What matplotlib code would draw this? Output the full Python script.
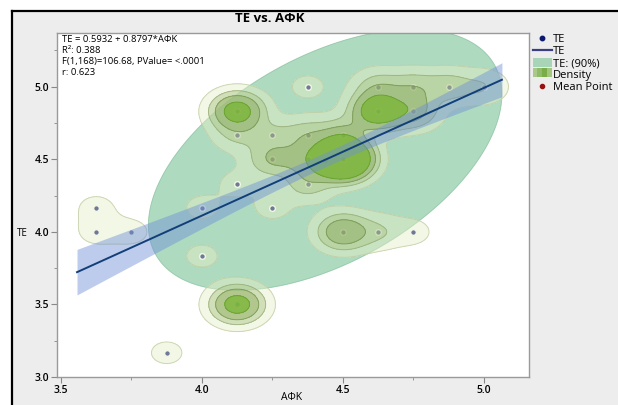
import numpy as np
import matplotlib
matplotlib.use("Agg")
import matplotlib.pyplot as plt
from matplotlib.patches import Rectangle, Polygon
from matplotlib.lines import Line2D
from matplotlib.legend_handler import HandlerBase

plt.rcParams.update({
    "font.family": ["Open Sans", "DejaVu Sans"],
    "font.size": 7.5,
})

# ---- data -------------------------------------------------------------------
afk = [3.625, 3.625, 3.75, 3.875, 4.0, 4.0, 4.125, 4.125, 4.125, 4.125,
       4.25, 4.25, 4.25, 4.375, 4.375, 4.375, 4.375, 4.5, 4.5, 4.5,
       4.625, 4.625, 4.625, 4.75, 4.75, 4.75, 4.875, 5.0]
te = [4.167, 4.0, 4.0, 3.167, 3.833, 4.167, 3.5, 4.333, 4.667, 4.833,
      4.667, 4.5, 4.167, 5.0, 4.667, 4.5, 4.333, 4.667, 4.5, 4.0,
      5.0, 4.833, 4.0, 5.0, 4.833, 4.0, 5.0, 5.0]
# estimated number of overlapping observations at each point
counts = [1, 1, 1, 1, 1, 1, 10, 1, 2, 10,
          2, 4, 1, 1, 3, 4, 3, 4, 30, 7,
          3, 12, 2, 3, 5, 1, 3, 2]

# fit statistics from the report
intercept = 0.5932
slope = 0.8797
r_sq = 0.388
n_obs = 170
mean_x = 4.437
sd_x = 0.293
sd_y = 0.416
fit_x_range = (3.557, 5.064)

# 90% ellipse as drawn (half extents in x / y and its tilt correlation)
ell_half_x = 0.627
ell_half_y = 0.90
ell_r = 0.5

report = ["TE = 0.5932 + 0.8797*A\u03a6K",
          "R\u00b2: 0.388",
          "F(1,168)=106.68, PValue= <.0001",
          "r: 0.623"]

afk = np.array(afk)
te = np.array(te)
counts = np.array(counts, dtype=float)
mean_y = intercept + slope * mean_x

# ---- figure -----------------------------------------------------------------
fig = plt.figure(figsize=(6.18, 4.05), dpi=100)
fig.patch.set_facecolor("white")
fig.patches.append(Rectangle((12 / 618, 0), 1, 1 - 11 / 405, transform=fig.transFigure,
                             facecolor="#ededed", edgecolor="none", zorder=-5))
fig.lines.append(Line2D([12 / 618, 1], [1 - 11 / 405] * 2, transform=fig.transFigure,
                        color="black", lw=1.6))
fig.lines.append(Line2D([12 / 618] * 2, [0, 1 - 11 / 405], transform=fig.transFigure,
                        color="black", lw=1.6))

ax = fig.add_axes([57 / 618, 28 / 405, 472 / 618, 344 / 405])
ax.set_facecolor("white")
ax.set_xlim(3.486, 5.16)
ax.set_ylim(3.0, 5.37)

# 90% density ellipse
cov = np.array([[1.0, ell_r], [ell_r, 1.0]])
L = np.linalg.cholesky(cov)
t = np.linspace(0, 2 * np.pi, 300)
unit = (L @ np.vstack([np.cos(t), np.sin(t)])).T
ell = unit * [ell_half_x, ell_half_y] + [mean_x, mean_y]
ax.add_patch(Polygon(ell, closed=True, facecolor="#6cbc8c", alpha=0.55,
                     edgecolor="#6aae85", lw=0.6, zorder=1))

# points
ax.scatter(afk, te, s=17, color="#0b1a70", edgecolor="white", linewidth=1.0, zorder=3)
ax.scatter([mean_x], [mean_y], s=9, color="#9a1a10", zorder=3)

# density contours (weighted kernel estimate)
hx, hy = 0.058, 0.08
gx = np.linspace(3.45, 5.2, 400)
gy = np.linspace(2.95, 5.45, 400)
GX, GY = np.meshgrid(gx, gy)
dens = np.zeros_like(GX)
for x0, y0, w in zip(afk, te, counts):
    dens += w * np.exp(-0.5 * ((GX - x0) / hx) ** 2 - 0.5 * ((GY - y0) / hy) ** 2)

levels = [0.65, 2.2, 4.2, 7.5]
fills = [("#e6eec6", 0.45), ("#a9c283", 0.45), ("#8aab5c", 0.45), ("#79b634", 0.75)]
edges = ["#bcc9a0", "#93a874", "#6f8f4a", "#5f9a2c"]
for lv, (fc, a), ec in zip(levels, fills, edges):
    ax.contourf(GX, GY, dens, levels=[lv, dens.max() + 1], colors=[fc], alpha=a, zorder=4)
    ax.contour(GX, GY, dens, levels=[lv], colors=[ec], linewidths=0.7, alpha=0.7, zorder=4)

# fit line and 95% confidence band of the mean
xf = np.linspace(*fit_x_range, 100)
yf = intercept + slope * xf
rmse = sd_y * np.sqrt(1 - r_sq) * np.sqrt((n_obs - 1) / (n_obs - 2))
sxx = (n_obs - 1) * sd_x ** 2
hw = 1.974 * rmse * np.sqrt(1 / n_obs + (xf - mean_x) ** 2 / sxx)
ax.fill_between(xf, yf - hw, yf + hw, color="#6d8fd8", alpha=0.45, lw=0, zorder=5)
ax.plot(xf, yf, color="#123f78", lw=1.4, zorder=6)

# axes styling
ax.set_xticks([3.5, 4.0, 4.5, 5.0])
ax.set_xticks([3.75, 4.25, 4.75], minor=True)
ax.set_yticks([3.0, 3.5, 4.0, 4.5, 5.0])
ax.set_yticks([3.25, 3.75, 4.25, 4.75, 5.25], minor=True)
ax.set_xticklabels(["3.5", "4.0", "4.5", "5.0"], fontweight="semibold")
ax.set_yticklabels(["3.0", "3.5", "4.0", "4.5", "5.0"], fontweight="semibold")
ax.tick_params(which="both", direction="out", color="#888888", pad=1.5)
ax.tick_params(which="major", length=4)
ax.tick_params(which="minor", length=2.5)
for sp in ax.spines.values():
    sp.set_color("#9a9a9a")
    sp.set_linewidth(1.0)

for i, line in enumerate(report):
    fig.text(62 / 618, 1 - (40 + i * 10.8) / 405, line, fontsize=6.8, ha="left",
             va="center", zorder=8)

fig.text(22 / 618, 1 - 233 / 405, "TE", fontsize=7, ha="center", va="center")
fig.text(292 / 618, 1 - 398 / 405, "A\u03a6K", fontsize=7.5, ha="center", va="center")
fig.text(270 / 618, 1 - 19 / 405, "TE vs. A\u03a6K", fontsize=9.5, fontweight="bold",
         ha="center", va="center")


# ---- legend -----------------------------------------------------------------
class DensityHandler(HandlerBase):
    def create_artists(self, legend, orig, xd, yd, w, h, fontsize, trans):
        shades = ["#a9c98a", "#8fbc66", "#7aad4a", "#a2c67e"]
        out = []
        for i, c in enumerate(shades):
            out.append(Rectangle((xd + i * w / 4, yd), w / 4, h, facecolor=c,
                                 edgecolor="none", transform=trans))
        return out


h_pts = Line2D([], [], ls="none", marker="o", ms=3.2, color="#0b1a70")
h_line = Line2D([], [], color="#3a3f80", lw=1.6)
h_ell = Rectangle((0, 0), 1, 1, facecolor="#a8d5b8", edgecolor="none")
h_dens = Rectangle((0, 0), 1, 1)
h_mean = Line2D([], [], ls="none", marker="o", ms=3.0, color="#9a1010")
fig.legend([h_pts, h_line, h_ell, h_dens, h_mean],
           ["TE", "TE", "TE: (90%)", "Density", "Mean Point"],
           handler_map={h_dens: DensityHandler()},
           loc="upper left", bbox_to_anchor=(525 / 618, 1 - 26 / 405),
           frameon=False, fontsize=8, handlelength=1.7, handletextpad=0.1,
           labelspacing=0.05, borderpad=0.2, handleheight=0.9)

fig.savefig("out.png", dpi=100)
